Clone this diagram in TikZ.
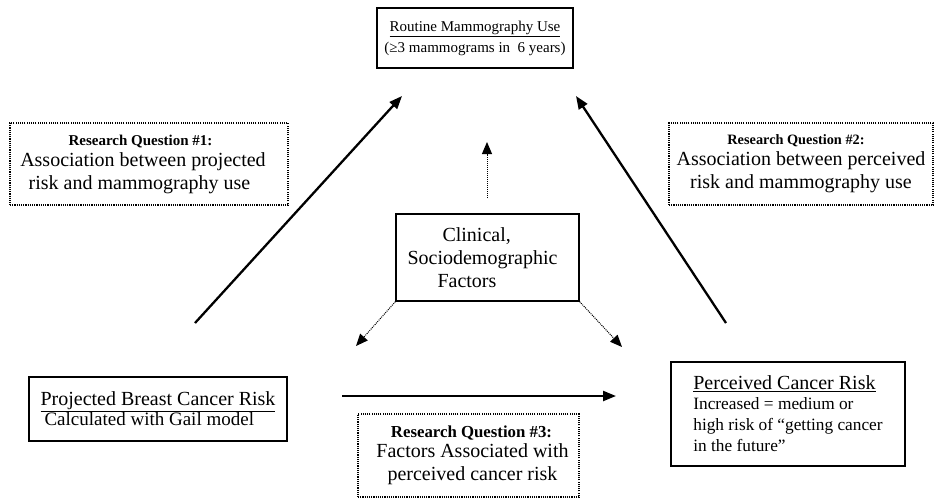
\documentclass[tikz,border=0pt]{standalone}
\usepackage{fontspec}
\setmainfont{Liberation Serif}
\usetikzlibrary{arrows.meta}
\tikzset{
  solidbox/.style={draw, line width=1.4pt, inner sep=2pt, font=\fontsize{20}{23}\selectfont},
  rqbox/.style={draw, line width=1.3pt, dash pattern=on 1.1pt off 1.1pt, inner sep=2pt, align=center, font=\fontsize{20}{23}\selectfont},
  bigarrow/.style={line width=2.3pt, -{Triangle[length=13pt,width=10pt]}},
  dotarrow/.style={line width=1pt, dash pattern=on 1pt off 1pt, -{Triangle[length=12pt,width=10pt]}},
}
\newcommand{\rqhead}[2][15]{{\fontsize{#1}{15}\selectfont\bfseries #2}}
\newcommand{\padr}[1]{\hspace*{#1}\mbox{}}
\begin{document}
\begin{tikzpicture}[x=1pt,y=-1pt]
\useasboundingbox (0,0) rectangle (935,499);
% top box
\node[solidbox, align=center, minimum width=196pt, minimum height=60pt, font=\fontsize{15}{21}\selectfont] (top) at (475,38)
  {\underline{Routine Mammography Use}\\(≥3 mammograms in\ \ 6 years)};
% research questions
\node[rqbox, minimum width=278pt, minimum height=82pt] (rq1) at (149,164)
  {\rqhead{Research Question \#1:}\padr{17pt}\\[-2pt]Association between projected\padr{12pt}\\ risk and mammography use\padr{19pt}};
\node[rqbox, minimum width=264pt, minimum height=82pt] (rq2) at (801,164)
  {\rqhead[14.3]{Research Question \#2:}\padr{10pt}\\[-2pt]Association between perceived\\ risk and mammography use};
\node[rqbox, minimum width=221pt, minimum height=83pt] (rq3) at (468.5,455.5)
  {\hspace*{6pt}\rqhead[16.8]{Research Question \#3:}\\[-3pt]\hspace*{8pt}Factors Associated with\\\hspace*{8pt}perceived cancer risk};
% clinical
\node[solidbox, align=left, minimum width=183pt, minimum height=87pt] (clin) at (487.5,257.5)
  {\hspace*{35pt}Clinical,\\Sociodemographic\padr{10pt}\\\hspace*{30pt}Factors};
% projected
\node[solidbox, align=left, minimum width=258pt, minimum height=64pt] (proj) at (158,409)
  {\underline{Projected Breast Cancer Risk}\\[-3pt]{\fontsize{19}{20}\selectfont\hspace*{4pt}Calculated with Gail model}};
% perceived
\node[solidbox, align=left, minimum width=234pt, minimum height=104pt] (perc) at (788,414)
  {\underline{Perceived Cancer Risk}\\[-3pt]{\fontsize{17.3}{20}\selectfont Increased = medium or}\\[-2pt]{\fontsize{17.3}{20}\selectfont high risk of “getting cancer}\\[-2pt]{\fontsize{17.3}{20}\selectfont in the future”}};
% arrow end points
\coordinate (a1s) at (195,323);
\coordinate (a1e) at (402,96);
\coordinate (a2s) at (726,323);
\coordinate (a2e) at (576,96);
\coordinate (hs) at (342,396);
\coordinate (he) at (616,396);
\coordinate (us) at (487,198);
\coordinate (ue) at (487,142);
\coordinate (dl) at (356,346);
\coordinate (dr) at (622,347);
\draw[bigarrow] (a1s) -- (a1e);
\draw[bigarrow] (a2s) -- (a2e);
\draw[bigarrow] (hs) -- (he);
\draw[dotarrow] (us) -- (ue);
\draw[dotarrow] (clin.south west) -- (dl);
\draw[dotarrow] (clin.south east) -- (dr);
\end{tikzpicture}
\end{document}
